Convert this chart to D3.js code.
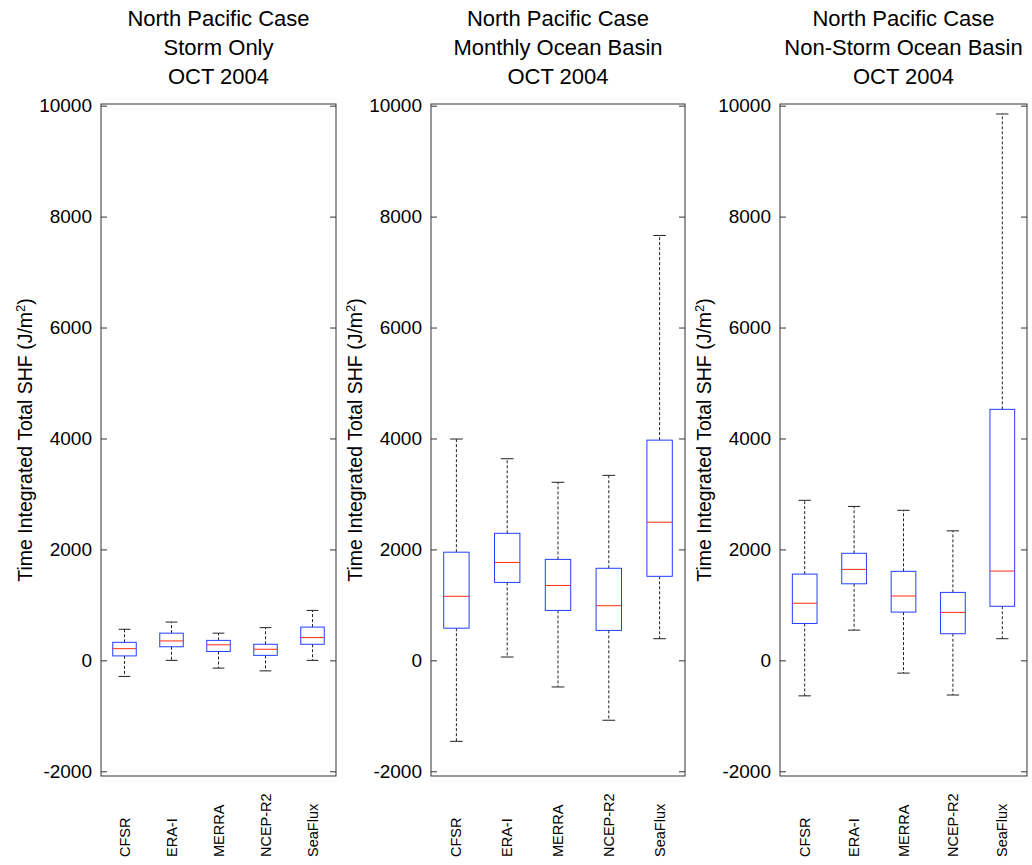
<!DOCTYPE html>
<html>
<head>
<meta charset="utf-8">
<script src="https://cdn.jsdelivr.net/npm/d3@7"></script>
<style>
  body { margin: 0; background: #fff; }
  text { font-family: "Liberation Sans", Arial, Helvetica, sans-serif; fill: #000; }
</style>
</head>
<body>
<svg id="chart" width="1032" height="865"></svg>
<script>
// ---- data ----
var categories = ["CFSR", "ERA-I", "MERRA", "NCEP-R2", "SeaFlux"];
var yTicks = [-2000, 0, 2000, 4000, 6000, 8000, 10000];

// Storm Only
var stormLo  = [-290,   0, -140, -190,   0];
var stormQ1  = [  80, 245,  160,   90, 290];
var stormMed = [ 210, 350,  280,  200, 410];
var stormQ3  = [ 325, 490,  360,  290, 600];
var stormHi  = [ 560, 690,  490,  590, 900];

// Monthly Ocean Basin
var monthLo  = [-1460,   60, -480, -1080,  390];
var monthQ1  = [  580, 1405,  900,   540, 1515];
var monthMed = [ 1155, 1765, 1350,   985, 2490];
var monthQ3  = [ 1950, 2290, 1820,  1660, 3970];
var monthHi  = [ 3990, 3635, 3210,  3335, 7660];

// Non-Storm Ocean Basin
var nonLo  = [-640,  545, -230, -625,  390];
var nonQ1  = [ 665, 1380,  870,  480,  975];
var nonMed = [1030, 1640, 1160,  865, 1610];
var nonQ3  = [1555, 1930, 1605, 1225, 4525];
var nonHi  = [2885, 2775, 2705, 2335, 9850];

var titles = [
  ["North Pacific Case", "Storm Only", "OCT 2004"],
  ["North Pacific Case", "Monthly Ocean Basin", "OCT 2004"],
  ["North Pacific Case", "Non-Storm Ocean Basin", "OCT 2004"]
];

// panel table (layout kept apart from the values)
var panels = [
  {title: titles[0], lo: stormLo, q1: stormQ1, med: stormMed, q3: stormQ3, hi: stormHi, left: 101, right: 336},
  {title: titles[1], lo: monthLo, q1: monthQ1, med: monthMed, q3: monthQ3, hi: monthHi, left: 431, right: 685},
  {title: titles[2], lo: nonLo,   q1: nonQ1,   med: nonMed,   q3: nonQ3,   hi: nonHi,   left: 780, right: 1027}
];

var svg = d3.select("#chart");
var plotTop = 104, plotBottom = 776;

var y = d3.scaleLinear().domain([-2085, 10030]).range([plotBottom, plotTop]);

panels.forEach(function(p) {
  var x = d3.scaleBand().domain(categories).range([p.left, p.right]);
  var bw = x.bandwidth();
  var g = svg.append("g");

  // axes box
  g.append("rect")
    .attr("x", p.left).attr("y", plotTop)
    .attr("width", p.right - p.left).attr("height", plotBottom - plotTop)
    .attr("fill", "none").attr("stroke", "#333").attr("stroke-width", 1);

  // left ticks + labels (plain hyphen for negatives, like the original)
  var la = g.append("g")
    .attr("transform", "translate(" + p.left + ",0)")
    .call(d3.axisLeft(y).tickValues(yTicks).tickSizeInner(-6).tickSizeOuter(0).tickPadding(9)
      .tickFormat(function(d) { return String(d); }));
  la.select(".domain").remove();
  la.selectAll("line").attr("stroke", "#333");
  la.selectAll("text").style("font-size", "19px").attr("fill", "#000");

  // right ticks, no labels
  var ra = g.append("g")
    .attr("transform", "translate(" + p.right + ",0)")
    .call(d3.axisRight(y).tickValues(yTicks).tickSizeInner(-6).tickSizeOuter(0).tickFormat(""));
  ra.select(".domain").remove();
  ra.selectAll("line").attr("stroke", "#333");

  // title, three lines
  var cx = (p.left + p.right) / 2;
  g.selectAll("text.title")
    .data(p.title)
    .enter().append("text")
      .attr("class", "title")
      .attr("x", cx)
      .attr("y", function(d, i) { return 25.5 + i * 29; })
      .attr("text-anchor", "middle")
      .style("font-size", "22px")
      .text(function(d) { return d; });

  // y label
  var yl = g.append("text")
    .attr("transform", "translate(" + (p.left - 69) + "," + ((plotTop + plotBottom) / 2) + ") rotate(-90)")
    .attr("text-anchor", "middle")
    .style("font-size", "19.5px");
  yl.append("tspan").text("Time Integrated Total SHF (J/m");
  yl.append("tspan").attr("baseline-shift", "super").style("font-size", "13px").text("2");
  yl.append("tspan").text(")");

  // category labels, rotated
  g.selectAll("text.cat")
    .data(categories)
    .enter().append("text")
      .attr("class", "cat")
      .attr("transform", function(d) { return "translate(" + (x(d) + bw / 2) + ",857) rotate(-90)"; })
      .attr("text-anchor", "start")
      .attr("dominant-baseline", "central")
      .style("font-size", "14.5px")
      .text(function(d) { return d; });

  // boxes
  var rows = categories.map(function(c, i) {
    return {c: c, lo: p.lo[i], q1: p.q1[i], med: p.med[i], q3: p.q3[i], hi: p.hi[i]};
  });

  var b = g.selectAll("g.box")
    .data(rows)
    .enter().append("g")
      .attr("class", "box");

  function mid(d) { return x(d.c) + bw / 2; }

  // whiskers (dashed)
  b.append("line")
    .attr("x1", mid).attr("x2", mid)
    .attr("y1", function(d) { return y(d.q3); })
    .attr("y2", function(d) { return y(d.hi); })
    .attr("stroke", "#222").attr("stroke-dasharray", "3,2");
  b.append("line")
    .attr("x1", mid).attr("x2", mid)
    .attr("y1", function(d) { return y(d.q1); })
    .attr("y2", function(d) { return y(d.lo); })
    .attr("stroke", "#222").attr("stroke-dasharray", "3,2");

  // caps
  b.append("line")
    .attr("x1", function(d) { return mid(d) - bw * 0.125; })
    .attr("x2", function(d) { return mid(d) + bw * 0.125; })
    .attr("y1", function(d) { return y(d.hi); })
    .attr("y2", function(d) { return y(d.hi); })
    .attr("stroke", "#222");
  b.append("line")
    .attr("x1", function(d) { return mid(d) - bw * 0.125; })
    .attr("x2", function(d) { return mid(d) + bw * 0.125; })
    .attr("y1", function(d) { return y(d.lo); })
    .attr("y2", function(d) { return y(d.lo); })
    .attr("stroke", "#222");

  // box
  b.append("rect")
    .attr("x", function(d) { return mid(d) - bw * 0.25; })
    .attr("width", bw * 0.5)
    .attr("y", function(d) { return y(d.q3); })
    .attr("height", function(d) { return y(d.q1) - y(d.q3); })
    .attr("fill", "none").attr("stroke", "#1f3fff");

  // median
  b.append("line")
    .attr("x1", function(d) { return mid(d) - bw * 0.25; })
    .attr("x2", function(d) { return mid(d) + bw * 0.25; })
    .attr("y1", function(d) { return y(d.med); })
    .attr("y2", function(d) { return y(d.med); })
    .attr("stroke", "#ff2a10");
});
</script>
</body>
</html>
